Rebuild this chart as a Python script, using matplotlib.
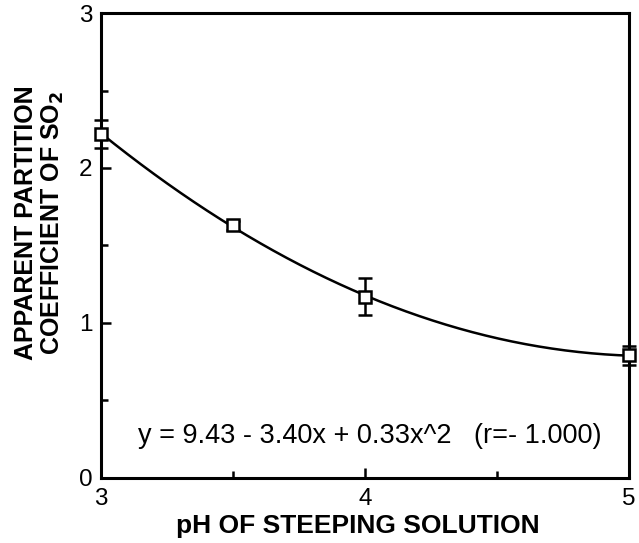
import numpy as np
import matplotlib.pyplot as plt

plt.rcParams['font.family'] = ['Liberation Sans', 'DejaVu Sans']

ph = [3.0, 3.5, 4.0, 5.0]
coef = [2.22, 1.63, 1.17, 0.79]
err = [0.09, 0.03, 0.12, 0.06]

# quadratic fit through the points
p = np.polyfit(ph, coef, 2)
xs = np.linspace(3, 5, 200)

fig = plt.figure(figsize=(6.39, 5.43), dpi=100)
ax = fig.add_axes([0.158, 0.12, 0.826, 0.856])

ax.plot(xs, np.polyval(p, xs), color='black', lw=1.8)
ax.errorbar(ph, coef, yerr=err, fmt='s', ms=9, mfc='white', mec='black',
            mew=1.8, ecolor='black', elinewidth=1.8, capsize=5, capthick=1.8,
            clip_on=False, zorder=5)

ax.set_xlim(3, 5)
ax.set_ylim(0, 3)
ax.set_xticks([3, 4, 5])
ax.set_yticks([0, 1, 2, 3])
ax.set_xticks([3.5, 4.5], minor=True)
ax.set_yticks([0.5, 1.5, 2.5], minor=True)
ax.tick_params(which='both', direction='in', width=1.8, labelsize=17.5)
ax.tick_params(which='major', length=7)
ax.tick_params(axis='x', which='major', pad=7)
ax.tick_params(axis='y', which='major', pad=6)
ax.tick_params(which='minor', length=5)
for s in ax.spines.values():
    s.set_linewidth(2.2)

fig.text(358 / 639, 1 - 526 / 543, 'pH OF STEEPING SOLUTION', fontsize=19,
         fontweight='bold', ha='center', va='center')
fig.text(40 / 639, 1 - 223 / 543, 'APPARENT PARTITION\nCOEFFICIENT OF SO$_\\mathbf{2}$',
         fontsize=18, fontweight='bold', rotation=90,
         ha='center', va='center', multialignment='center', linespacing=1.05)

ax.text(4.02, 0.27, 'y = 9.43 - 3.40x + 0.33x^2   (r=- 1.000)', fontsize=19.5,
        ha='center', va='center')

fig.savefig('out.png', dpi=100)
